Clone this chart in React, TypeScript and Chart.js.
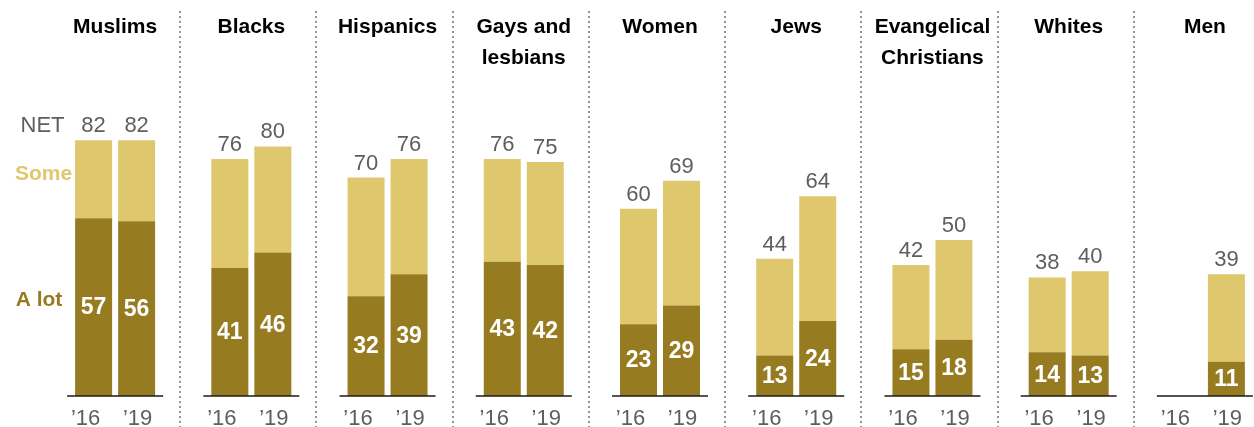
import { useEffect, useRef } from "react";
import { Chart, registerables } from "chart.js";

Chart.register(...registerables);

// ---- data ----
const groupTitles: string[][] = [
  ["Muslims"],
  ["Blacks"],
  ["Hispanics"],
  ["Gays and", "lesbians"],
  ["Women"],
  ["Jews"],
  ["Evangelical", "Christians"],
  ["Whites"],
  ["Men"],
];
const yearLabels = ["’16", "’19"];
const aLot2016: (number | null)[] = [57, 41, 32, 43, 23, 13, 15, 14, null];
const net2016: (number | null)[] = [82, 76, 70, 76, 60, 44, 42, 38, null];
const aLot2019: (number | null)[] = [56, 46, 39, 42, 29, 24, 18, 13, 11];
const net2019: (number | null)[] = [82, 80, 76, 75, 69, 64, 50, 40, 39];

const some2016 = net2016.map((n, i) => (n == null || aLot2016[i] == null ? null : n - (aLot2016[i] as number)));
const some2019 = net2019.map((n, i) => (n == null || aLot2019[i] == null ? null : n - (aLot2019[i] as number)));

// ---- styles ----
const DARK = "#977b21";
const LIGHT = "#dfc76e";
const GRAY = "#5e5e5e";
const FONT = "'Liberation Sans', Arial, sans-serif";

const overlay = {
  id: "overlay",
  afterDatasetsDraw(chart: any) {
    const ctx: CanvasRenderingContext2D = chart.ctx;
    const xs = chart.scales.x;
    const area = chart.chartArea;
    ctx.save();

    // dotted separators
    ctx.strokeStyle = "#7a7a7a";
    ctx.lineWidth = 1.6;
    ctx.setLineDash([2, 3]);
    for (let i = 1; i < groupTitles.length; i++) {
      const x = Math.round((xs.getPixelForValue(i - 1) + xs.getPixelForValue(i)) / 2 - 3);
      ctx.beginPath();
      ctx.moveTo(x, 11);
      ctx.lineTo(x, 427);
      ctx.stroke();
    }
    ctx.setLineDash([]);

    // per-group baselines
    ctx.strokeStyle = "#1a1a1a";
    ctx.lineWidth = 1.5;
    for (let i = 0; i < groupTitles.length; i++) {
      const c = xs.getPixelForValue(i);
      ctx.beginPath();
      ctx.moveTo(c - 48, area.bottom);
      ctx.lineTo(c + 48, area.bottom);
      ctx.stroke();
    }

    // titles
    ctx.fillStyle = "#000";
    ctx.font = `bold 21px ${FONT}`;
    ctx.textAlign = "center";
    ctx.textBaseline = "alphabetic";
    groupTitles.forEach((lines, i) => {
      const c = xs.getPixelForValue(i);
      lines.forEach((ln, k) => ctx.fillText(ln, c, 33 + k * 31));
    });

    // bars: values and year labels
    const pairs = [
      { alotIdx: 0, someIdx: 1, alot: aLot2016, net: net2016, yearOffset: -8, year: yearLabels[0] },
      { alotIdx: 2, someIdx: 3, alot: aLot2019, net: net2019, yearOffset: 1, year: yearLabels[1] },
    ];
    pairs.forEach((p) => {
      const alotMeta = chart.getDatasetMeta(p.alotIdx);
      const someMeta = chart.getDatasetMeta(p.someIdx);
      for (let j = 0; j < groupTitles.length; j++) {
        const el = alotMeta.data[j];
        const sEl = someMeta.data[j];
        const c = xs.getPixelForValue(j);
        const bx = el && Number.isFinite(el.x) ? el.x : c + (p.alotIdx === 0 ? -21.5 : 21.5);
        // year label
        ctx.fillStyle = GRAY;
        ctx.font = `22px ${FONT}`;
        ctx.textBaseline = "alphabetic";
        ctx.fillText(p.year, bx + p.yearOffset, 425);
        const a = p.alot[j];
        const n = p.net[j];
        if (a == null || n == null) continue;
        // net label
        ctx.font = `22px ${FONT}`;
        ctx.fillText(String(n), bx, sEl.y - 8);
        // a lot label inside dark segment
        ctx.fillStyle = "#fff";
        ctx.font = `bold 23px ${FONT}`;
        ctx.textBaseline = "middle";
        ctx.fillText(String(a), bx, (el.y + el.base) / 2 + 1);
      }
    });

    // left legend labels
    ctx.textBaseline = "alphabetic";
    ctx.fillStyle = GRAY;
    ctx.font = `22px ${FONT}`;
    ctx.fillText("NET", 42.5, 132);
    ctx.textBaseline = "middle";
    ctx.fillStyle = LIGHT;
    ctx.font = `bold 21px ${FONT}`;
    ctx.fillText("Some", 43.5, 174);
    ctx.fillStyle = DARK;
    ctx.fillText("A lot", 39, 300);

    ctx.restore();
  },
};

export default function App() {
  const ref = useRef<HTMLCanvasElement | null>(null);

  useEffect(() => {
    document.body.style.margin = "0";
    document.body.style.overflow = "hidden";
    const canvas = ref.current;
    if (!canvas) return;
    const chart = new Chart(canvas, {
      type: "bar",
      data: {
        labels: groupTitles.map((t) => t.join(" ")),
        datasets: [
          { label: "A lot ’16", data: aLot2016, stack: "y16", backgroundColor: DARK, borderWidth: 0 },
          { label: "Some ’16", data: some2016, stack: "y16", backgroundColor: LIGHT, borderWidth: 0 },
          { label: "A lot ’19", data: aLot2019, stack: "y19", backgroundColor: DARK, borderWidth: 0 },
          { label: "Some ’19", data: some2019, stack: "y19", backgroundColor: LIGHT, borderWidth: 0 },
        ],
      },
      options: {
        responsive: false,
        animation: false,
        devicePixelRatio: 1,
        layout: { padding: { left: 47, right: 0, top: 84, bottom: 31 } },
        plugins: { legend: { display: false }, tooltip: { enabled: false } },
        datasets: { bar: { categoryPercentage: 86 / 136.2, barPercentage: 37 / 43 } },
        scales: {
          x: { display: false, stacked: true },
          y: { display: false, stacked: true, min: 0, max: 100 },
        },
      },
      plugins: [overlay],
    } as any);
    return () => chart.destroy();
  }, []);

  return (
    <div style={{ width: 1254, height: 427, overflow: "hidden", position: "relative", background: "#fff" }}>
      <canvas ref={ref} width={1273} height={427} style={{ width: 1273, height: 427, display: "block" }} />
    </div>
  );
}
